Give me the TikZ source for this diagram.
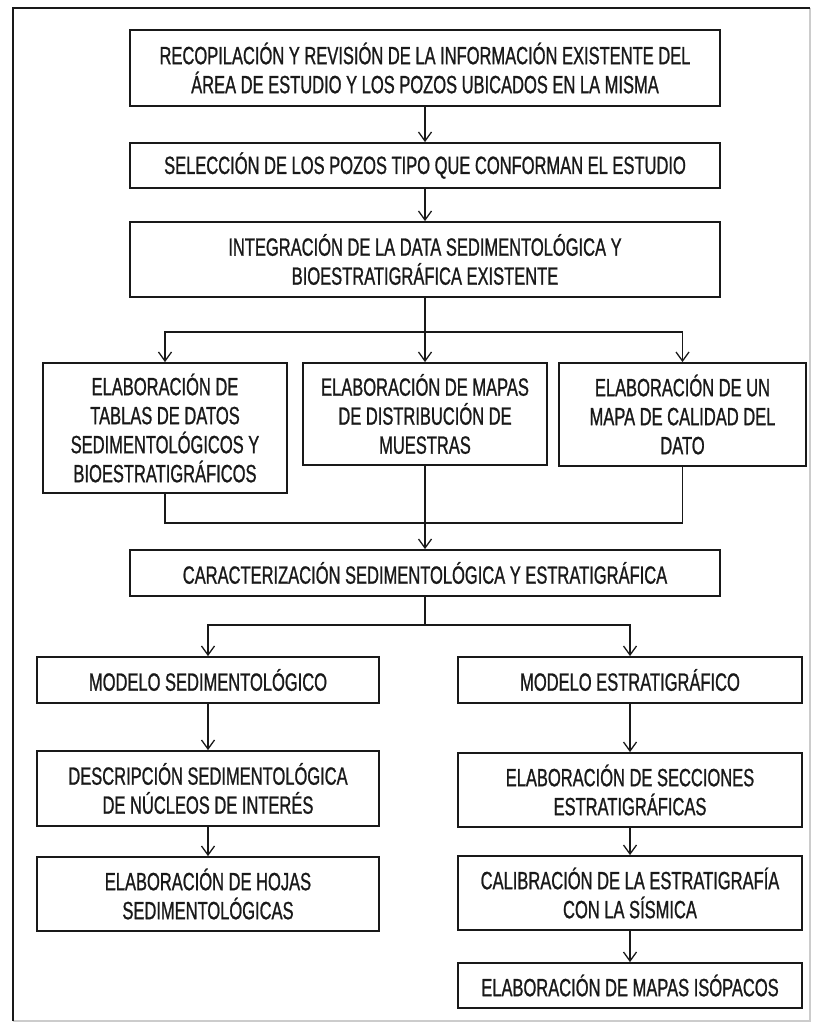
\documentclass[tikz,border=0pt]{standalone}
\usepackage{fontspec}
\setmainfont{Liberation Sans}[FakeStretch=0.66,FakeBold=0.9]
\usetikzlibrary{arrows.meta}

\begin{document}
\begin{tikzpicture}[x=1pt,y=-1pt,
    box/.style={draw=black!90,line width=1.8pt,rectangle,align=center,inner sep=0pt,
        font=\fontsize{25}{29}\selectfont,text=black!90},
    conn/.style={draw=black!90,line width=1.5pt},
    arr/.style={conn,-{Straight Barb[length=9pt,width=13pt,line width=1.3pt]}}]
    \useasboundingbox (0,0) rectangle (820,1024);
    % marco
    \draw[black!20,line width=1.5pt] (810,8) -- (810,1021) -- (13,1021);
    \draw[black!90,line width=2pt] (13,1021) -- (13,8) -- (810,8);
    % cajas superiores
    \node[box,minimum width=590,minimum height=76] (recop) at (425,68)
        {RECOPILACIÓN Y REVISIÓN DE LA INFORMACIÓN EXISTENTE DEL\\ÁREA DE ESTUDIO Y LOS POZOS UBICADOS EN LA MISMA};
    \node[box,minimum width=590,minimum height=45] (selec) at (425,165.5)
        {SELECCIÓN DE LOS POZOS TIPO QUE CONFORMAN EL ESTUDIO};
    \node[box,minimum width=590,minimum height=75] (integ) at (425,259.5)
        {INTEGRACIÓN DE LA DATA SEDIMENTOLÓGICA Y\\BIOESTRATIGRÁFICA EXISTENTE};
    % tres ramas
    \node[box,minimum width=244,minimum height=130] (tablas) at (165,428)
        {ELABORACIÓN DE\\TABLAS DE DATOS\\SEDIMENTOLÓGICOS Y\\BIOESTRATIGRÁFICOS};
    \node[box,minimum width=244,minimum height=102] (mapas) at (425,414)
        {ELABORACIÓN DE MAPAS\\DE DISTRIBUCIÓN DE\\MUESTRAS};
    \node[box,minimum width=247,minimum height=103] (calidad) at (682.5,414.5)
        {ELABORACIÓN DE UN\\MAPA DE CALIDAD DEL\\DATO};
    \node[box,minimum width=590,minimum height=46] (caract) at (425,573)
        {CARACTERIZACIÓN SEDIMENTOLÓGICA Y ESTRATIGRÁFICA};
    % columna izquierda
    \node[box,minimum width=342,minimum height=46] (modsed) at (208,680)
        {MODELO SEDIMENTOLÓGICO};
    \node[box,minimum width=342,minimum height=75] (descr) at (208,788.5)
        {DESCRIPCIÓN SEDIMENTOLÓGICA\\DE NÚCLEOS DE INTERÉS};
    \node[box,minimum width=342,minimum height=74] (hojas) at (208,894)
        {ELABORACIÓN DE HOJAS\\SEDIMENTOLÓGICAS};
    % columna derecha
    \node[box,minimum width=344,minimum height=46] (modest) at (630,680)
        {MODELO ESTRATIGRÁFICO};
    \node[box,minimum width=344,minimum height=74] (secc) at (630,790)
        {ELABORACIÓN DE SECCIONES\\ESTRATIGRÁFICAS};
    \node[box,minimum width=344,minimum height=74] (calib) at (630,893)
        {CALIBRACIÓN DE LA ESTRATIGRAFÍA\\CON LA SÍSMICA};
    \node[box,minimum width=344,minimum height=45] (isop) at (630,985.5)
        {ELABORACIÓN DE MAPAS ISÓPACOS};
    % conectores
    \coordinate (split1) at (425,332);
    \coordinate (merge) at (425,523);
    \coordinate (split2) at (425,625);
    \draw[arr] (recop) -- (selec);
    \draw[arr] (selec) -- (integ);
    \draw[conn] (integ) -- (split1);
    \draw[arr] (split1) -| (tablas.north);
    \draw[arr] (split1) -- (mapas);
    \draw[arr] (split1) -| (calidad.north);
    \draw[conn] (tablas.south) |- (merge);
    \draw[conn] (calidad.south) |- (merge);
    \draw[conn] (mapas) -- (merge);
    \draw[arr] (merge) -- (caract);
    \draw[conn] (caract) -- (split2);
    \draw[arr] (split2) -| (modsed.north);
    \draw[arr] (split2) -| (modest.north);
    \draw[arr] (modsed) -- (descr);
    \draw[arr] (descr) -- (hojas);
    \draw[arr] (modest) -- (secc);
    \draw[arr] (secc) -- (calib);
    \draw[arr] (calib) -- (isop);
\end{tikzpicture}
\end{document}
